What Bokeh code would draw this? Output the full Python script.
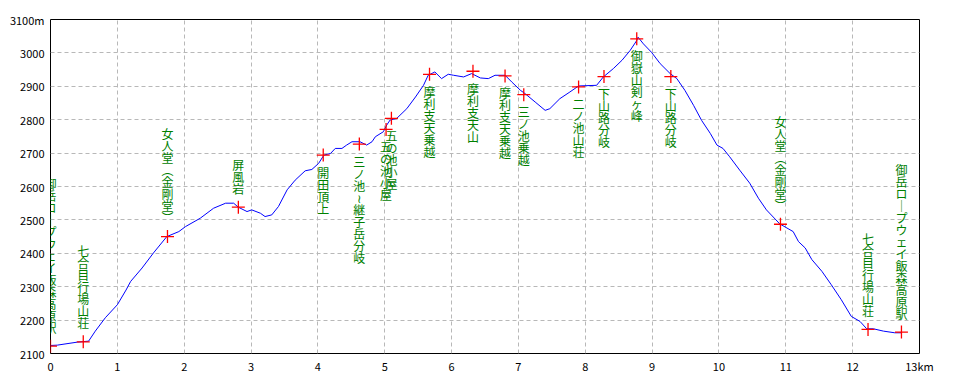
from bokeh.plotting import figure
from bokeh.models import Range1d, FixedTicker, ColumnDataSource
from bokeh.embed import file_html
from bokeh.resources import INLINE
from bokeh.core.properties import value

# Elevation profile (km, m)
dist_km = [0.00, 0.10, 0.40, 0.57, 0.67, 0.82, 1.00, 1.13, 1.17, 1.20, 1.37, 1.54, 1.74, 1.92, 2.02,
           2.24, 2.44, 2.62, 2.74, 2.81, 2.94, 3.01, 3.14, 3.21, 3.31, 3.41, 3.54, 3.66, 3.81, 3.91,
           4.01, 4.09, 4.19, 4.26, 4.36, 4.43, 4.51, 4.63, 4.73, 4.81, 4.86, 4.98, 5.03, 5.08, 5.18,
           5.33, 5.46, 5.58, 5.65, 5.75, 5.85, 5.95, 6.03, 6.18, 6.30, 6.43, 6.55, 6.65, 6.80, 6.90,
           7.03, 7.10, 7.25, 7.40, 7.47, 7.62, 7.77, 7.90, 8.17, 8.27, 8.42, 8.55, 8.67, 8.77, 8.79,
           8.87, 8.99, 9.12, 9.27, 9.37, 9.49, 9.62, 9.74, 9.87, 9.97, 10.06, 10.16, 10.31, 10.46,
           10.59, 10.71, 10.91, 11.11, 11.19, 11.29, 11.39, 11.54, 11.68, 11.83, 11.98, 12.11, 12.21,
           12.31, 12.46, 12.63, 12.73]
elev_m = [2124, 2125, 2134, 2137, 2167, 2207, 2246, 2290, 2305, 2316, 2356, 2401, 2450, 2465, 2480,
          2505, 2535, 2550, 2550, 2538, 2525, 2530, 2520, 2510, 2515, 2540, 2590, 2619, 2647, 2651,
          2669, 2694, 2699, 2714, 2714, 2724, 2734, 2734, 2724, 2734, 2749, 2764, 2784, 2799, 2804,
          2833, 2868, 2903, 2933, 2943, 2923, 2936, 2933, 2928, 2938, 2925, 2923, 2933, 2933, 2913,
          2888, 2878, 2853, 2828, 2833, 2863, 2883, 2901, 2903, 2928, 2953, 2978, 3007, 3037, 3047,
          3027, 3002, 2968, 2938, 2923, 2888, 2843, 2798, 2759, 2724, 2714, 2689, 2649, 2610,
          2565, 2530, 2488, 2465, 2435, 2416, 2381, 2346, 2306, 2261, 2211, 2196, 2174,
          2174, 2167, 2162, 2162]

# Waypoints
point_km = [0.0, 0.49, 1.75, 2.81, 4.08, 4.62, 5.02, 5.10, 5.67, 6.32, 6.80, 7.08, 7.90, 8.28,
            8.77, 9.28, 10.92, 12.23, 12.73]
point_m = [2122, 2135, 2450, 2538, 2694, 2727, 2771, 2804, 2936, 2945, 2931, 2875, 2898, 2929,
           3042, 2929, 2487, 2172, 2164]
point_names = ["御岳ロープウェイ飯森高原駅", "七合目行場山荘", "女人堂（金剛堂）", "屏風岩", "開田頂上",
               "三ノ池～継子岳分岐", "五の池小屋", "五の池小屋", "摩利支天乗越", "摩利支天山",
               "摩利支天乗越", "三ノ池乗越", "二ノ池山荘", "下山路分岐", "御嶽山剣ヶ峰", "下山路分岐",
               "女人堂（金剛堂）", "七合目行場山荘", "御岳ロープウェイ飯森高原駅"]
label_side = ["above", "above", "above", "above", "below", "below", "below", "below", "below",
              "below", "below", "below", "below", "below", "below", "below", "above", "above", "above"]

x_ticks = list(range(0, 14))
y_ticks = list(range(2100, 3101, 100))

VERT = {"ー": "｜", "（": "︵", "）": "︶", "～": "≀"}
PITCH = 12  # vertical character pitch, px

p = figure(width=952, height=376, output_backend="svg", toolbar_location=None,
           x_range=Range1d(0, 13), y_range=Range1d(2100, 3100))
p.min_border = 0
p.min_border_left = 50
p.min_border_right = 33
p.min_border_top = 19
p.min_border_bottom = 22
p.outline_line_color = "black"
p.outline_line_width = 1
p.background_fill_color = "white"
p.border_fill_color = "white"

p.xaxis.ticker = FixedTicker(ticks=x_ticks)
p.yaxis.ticker = FixedTicker(ticks=y_ticks)
p.xaxis.major_label_overrides = {13: "13km"}
p.yaxis.major_label_overrides = {3100: "3100m"}
for ax in (p.xaxis[0], p.yaxis[0]):
    ax.axis_line_color = None
    ax.major_tick_line_color = None
    ax.minor_tick_line_color = None
    ax.major_tick_out = 0
    ax.major_tick_in = 0
    ax.minor_tick_out = 0
    ax.minor_tick_in = 0
    ax.major_label_text_font = "Noto Sans CJK JP"
    ax.major_label_text_font_size = "11px"
    ax.major_label_text_color = "black"
p.xaxis.major_label_standoff = 4
p.yaxis.major_label_standoff = 6

for g in (p.xgrid[0], p.ygrid[0]):
    g.grid_line_color = "#b8b8b8"
    g.grid_line_dash = "4 3"
    g.grid_line_width = 1

p.line(dist_km, elev_m, line_color="#0000ff", line_width=1)
p.scatter(point_km, point_m, marker="cross", size=13, line_color="#ff0000", line_width=1.3)

# vertical labels: one glyph per character, stacked downward
cx, cy, ct, co = [], [], [], []
for xk, ym, name, side in zip(point_km, point_m, point_names, label_side):
    chars = [VERT.get(c, c) for c in name]
    n = len(chars)
    top = 11 if side == "below" else -13 - PITCH * n
    for k, c in enumerate(chars):
        cx.append(xk)
        cy.append(ym)
        ct.append(c)
        co.append(top + PITCH * k + PITCH / 2)
src = ColumnDataSource(dict(x=cx, y=cy, t=ct, oy=co))
p.text(x="x", y="y", text="t", source=src, text_align="center", text_baseline="middle",
       y_offset="oy", text_font=value("Noto Sans CJK JP"), text_font_size="12px",
       text_color="#008000")

open("out.html", "w").write(file_html(p, INLINE))
